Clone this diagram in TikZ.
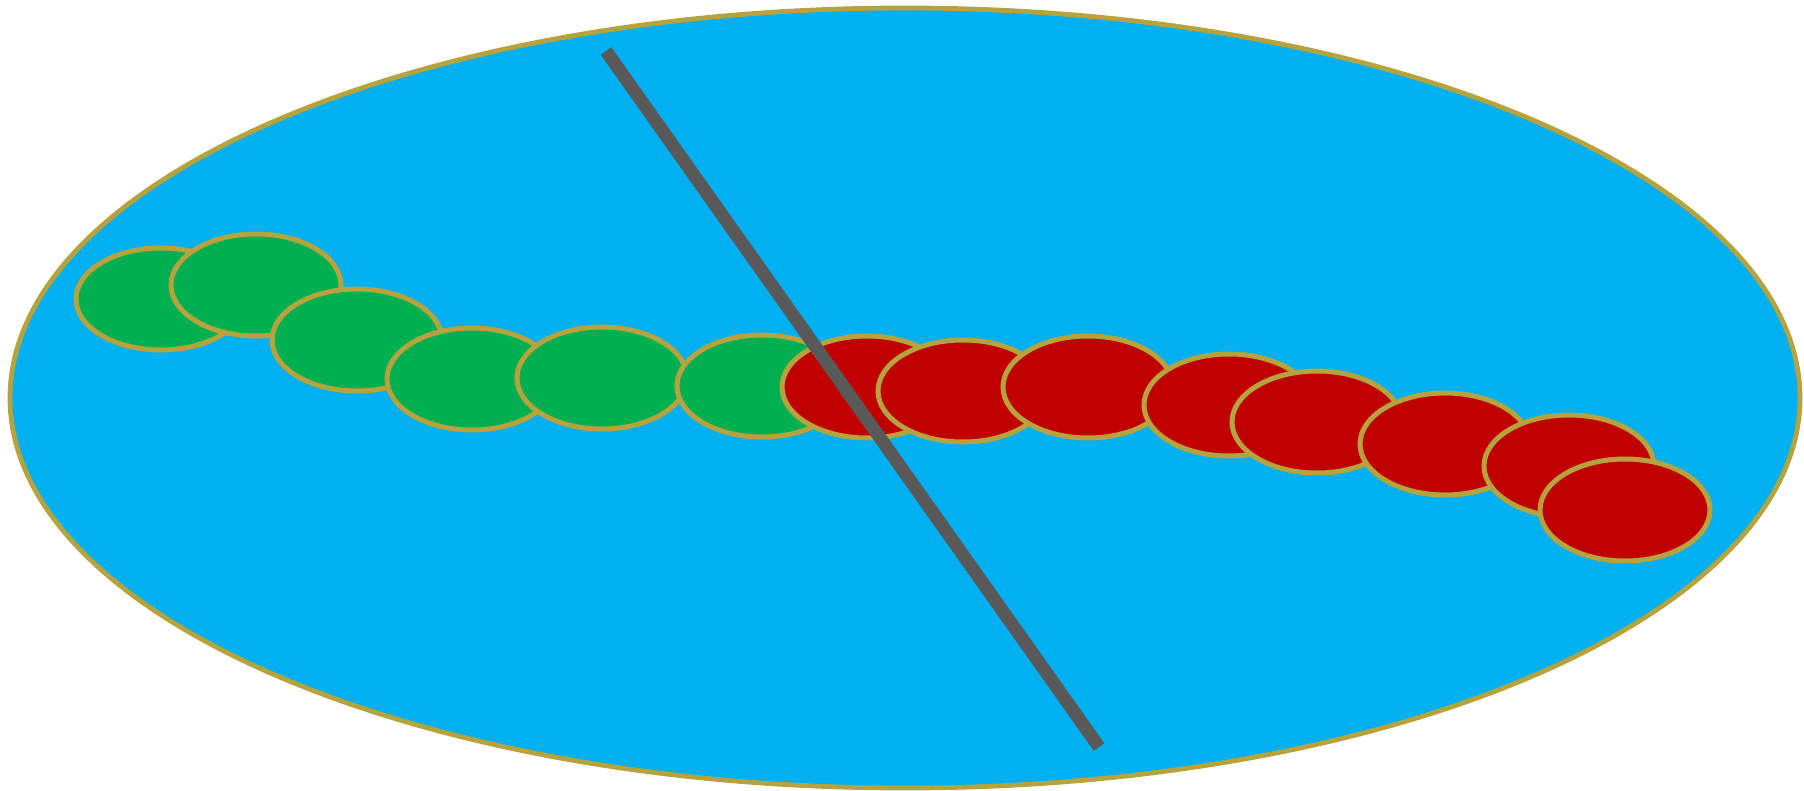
\documentclass[tikz,border=0pt]{standalone}
\usetikzlibrary{shapes.geometric}
\definecolor{pond}{HTML}{00B0F0}
\definecolor{goldline}{RGB}{183,163,61}
\definecolor{gdisc}{HTML}{00B050}
\definecolor{rdisc}{HTML}{C00000}
\definecolor{rod}{HTML}{595959}
\tikzset{
  pondshape/.style={ellipse, draw=goldline, fill=pond, line width=2.4pt, inner sep=0pt,
    minimum width=895pt, minimum height=390pt},
  disc/.style={ellipse, draw=goldline, line width=2.5pt, inner sep=0pt,
    minimum width=85pt, minimum height=51pt},
  gdiscst/.style={disc, fill=gdisc},
  rdiscst/.style={disc, fill=rdisc},
  rodline/.style={draw=rod, line width=6.5pt}
}
\begin{document}
\begin{tikzpicture}[x=0.5pt,y=-0.5pt]
\useasboundingbox (0,0) rectangle (1804,791);
\node[pondshape] (pond) at (905,398) {};
\node[gdiscst] (g1) at (161,299) {};
\node[gdiscst] (g2) at (256,285) {};
\node[gdiscst] (g3) at (357,340) {};
\node[gdiscst] (g4) at (472,379) {};
\node[gdiscst] (g5) at (602,378) {};
\node[gdiscst] (g6) at (762,386) {};
\node[rdiscst] (r1) at (867,387) {};
\node[rdiscst] (r2) at (963,391) {};
\node[rdiscst] (r3) at (1088,387) {};
\node[rdiscst] (r4) at (1229,405) {};
\node[rdiscst] (r5) at (1317,422) {};
\node[rdiscst] (r6) at (1445,444) {};
\node[rdiscst] (r7) at (1569,466) {};
\node[rdiscst] (r8) at (1625,510) {};
\coordinate (rodtop) at (606,51);
\coordinate (rodbot) at (1099,747);
\draw[rodline] (rodtop) -- (rodbot);
\end{tikzpicture}
\end{document}
